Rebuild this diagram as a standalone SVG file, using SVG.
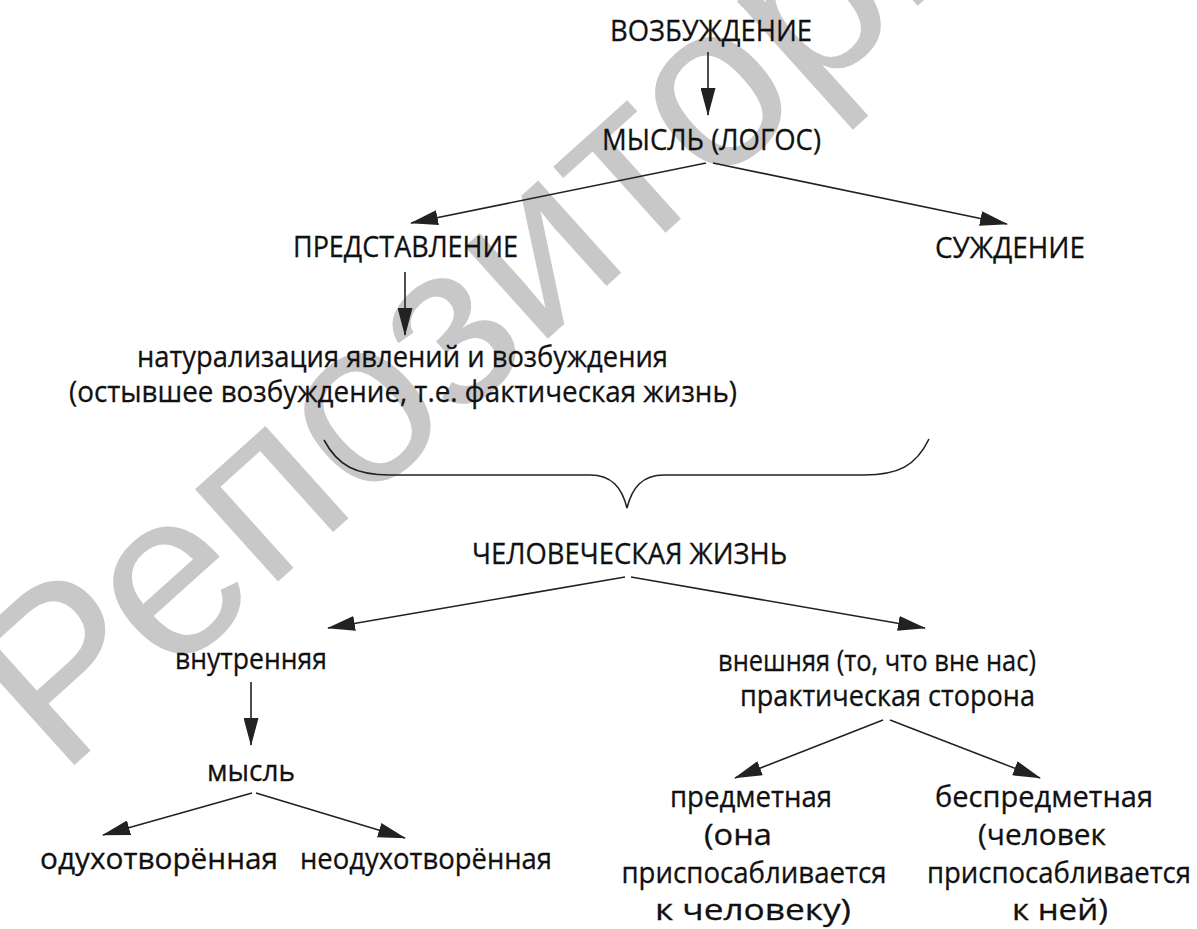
<svg xmlns="http://www.w3.org/2000/svg" width="1197" height="929" viewBox="0 0 1197 929">
<style>
.t{font-family:"Open Sans","Noto Sans","DejaVu Sans",sans-serif;font-size:30px;fill:#111;stroke:#111;stroke-width:0.3;text-anchor:middle}
.c{stroke:#222;stroke-width:1.6;fill:none}
.wm{font-family:"Liberation Sans",Arial,sans-serif;font-size:235px;fill:#c8c8c8}
</style>
<defs>
<marker id="ah" markerUnits="userSpaceOnUse" markerWidth="28" markerHeight="15" refX="27" refY="7.5" orient="auto">
<path d="M0,0 L28,7.5 L0,15 z" fill="#222"/>
</marker>
</defs>
<rect width="1197" height="929" fill="#fff"/>
<text class="wm" transform="translate(60,778) rotate(-42)">Репозиторий</text>
<g id="connectors">
<line class="c" x1="708" y1="52" x2="708" y2="115" marker-end="url(#ah)"/>
<line class="c" x1="706" y1="163" x2="411" y2="223" marker-end="url(#ah)"/>
<line class="c" x1="713" y1="163" x2="1007" y2="224" marker-end="url(#ah)"/>
<line class="c" x1="405" y1="272" x2="405" y2="335" marker-end="url(#ah)"/>
<path class="c" d="M324,440 C338,466 356,475 390,475 L590,475 C612,475 622,488 627,508 C632,488 642,475 664,475 L864,475 C898,475 916,466 929,439"/>
<line class="c" x1="625" y1="577" x2="328" y2="628" marker-end="url(#ah)"/>
<line class="c" x1="631" y1="577" x2="925" y2="628" marker-end="url(#ah)"/>
<line class="c" x1="251" y1="682" x2="251" y2="745" marker-end="url(#ah)"/>
<line class="c" x1="252" y1="793" x2="103" y2="835" marker-end="url(#ah)"/>
<line class="c" x1="256" y1="793" x2="405" y2="838" marker-end="url(#ah)"/>
<line class="c" x1="883" y1="720" x2="735" y2="778" marker-end="url(#ah)"/>
<line class="c" x1="890" y1="720" x2="1040" y2="778" marker-end="url(#ah)"/>
</g>
<g id="n-vozb"><text class="t" x="711" y="41" textLength="202" lengthAdjust="spacingAndGlyphs">ВОЗБУЖДЕНИЕ</text></g>
<g id="n-mysl-logos"><text class="t" x="711.5" y="150" textLength="219" lengthAdjust="spacingAndGlyphs">МЫСЛЬ (ЛОГОС)</text></g>
<g id="n-predst"><text class="t" x="405.5" y="257" textLength="225" lengthAdjust="spacingAndGlyphs">ПРЕДСТАВЛЕНИЕ</text></g>
<g id="n-suzhd"><text class="t" x="1010" y="258" textLength="150" lengthAdjust="spacingAndGlyphs">СУЖДЕНИЕ</text></g>
<g id="n-natur">
<text class="t" x="402.5" y="367" textLength="531" lengthAdjust="spacingAndGlyphs">натурализация явлений и возбуждения</text>
<text class="t" x="403" y="402" textLength="668" lengthAdjust="spacingAndGlyphs">(остывшее возбуждение, т.е. фактическая жизнь)</text>
</g>
<g id="n-chel"><text class="t" x="629.5" y="564" textLength="315" lengthAdjust="spacingAndGlyphs">ЧЕЛОВЕЧЕСКАЯ ЖИЗНЬ</text></g>
<g id="n-vnutr"><text class="t" x="251" y="669" textLength="152" lengthAdjust="spacingAndGlyphs">внутренняя</text></g>
<g id="n-mysl"><text class="t" x="251" y="781" textLength="88" lengthAdjust="spacingAndGlyphs">мысль</text></g>
<g id="n-oduh"><text class="t" x="159" y="869" textLength="238" lengthAdjust="spacingAndGlyphs">одухотворённая</text></g>
<g id="n-neoduh"><text class="t" x="426" y="869" textLength="252" lengthAdjust="spacingAndGlyphs">неодухотворённая</text></g>
<g id="n-vnesh">
<text class="t" x="877" y="671" textLength="318" lengthAdjust="spacingAndGlyphs">внешняя (то, что вне нас)</text>
<text class="t" x="887.5" y="706" textLength="295" lengthAdjust="spacingAndGlyphs">практическая сторона</text>
</g>
<g id="n-predm">
<text class="t" x="751" y="807" textLength="162" lengthAdjust="spacingAndGlyphs">предметная</text>
<text class="t" x="738" y="845" textLength="68" lengthAdjust="spacingAndGlyphs">(она</text>
<text class="t" x="754" y="883" textLength="265" lengthAdjust="spacingAndGlyphs">приспосабливается</text>
<text class="t" x="753" y="920" textLength="196" lengthAdjust="spacingAndGlyphs">к человеку)</text>
</g>
<g id="n-bespredm">
<text class="t" x="1044" y="807" textLength="218" lengthAdjust="spacingAndGlyphs">беспредметная</text>
<text class="t" x="1042" y="845" textLength="128" lengthAdjust="spacingAndGlyphs">(человек</text>
<text class="t" x="1059" y="883" textLength="264" lengthAdjust="spacingAndGlyphs">приспосабливается</text>
<text class="t" x="1060" y="920" textLength="96" lengthAdjust="spacingAndGlyphs">к ней)</text>
</g>
</svg>
